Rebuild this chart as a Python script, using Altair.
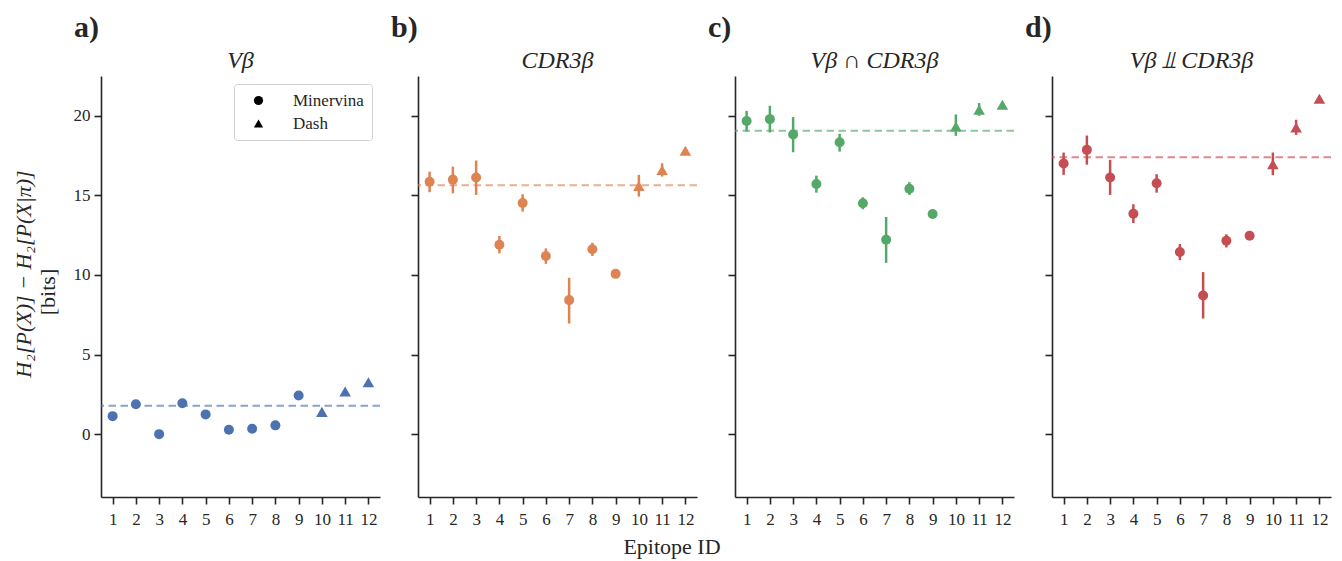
import altair as alt
import pandas as pd

FONT = "Liberation Serif"
MATH_FONT = "Liberation Serif, DejaVu Serif, DejaVu Sans"
INK = "#262626"

# Shared categories
EPITOPES = list(range(1, 13))
COHORTS = ["Minervina"] * 9 + ["Dash"] * 3
COHORT_ORDER = ["Minervina", "Dash"]
COHORT_SHAPES = ["circle", "triangle-up"]

PANEL_TITLES = ["Vβ", "CDR3β", "Vβ ∩ CDR3β", "Vβ ⫫ CDR3β"]
PANEL_LETTERS = ["a)", "b)", "c)", "d)"]
PANEL_COLORS = ["#4C72B0", "#DD8452", "#55A868", "#C44E52"]

X_LABEL = "Epitope ID"
Y_LABEL_MATH = "H₂[P(X)] − H₂[P(X|π)]"
Y_LABEL_UNIT = "[bits]"
Y_TICKS = [0, 5, 10, 15, 20]

# Vβ
VB = [1.13, 1.88, 0.00, 1.94, 1.24, 0.28, 0.34, 0.55, 2.43, 1.40, 2.68, 3.26]
VB_LO = [1.10, 1.85, -0.03, 1.91, 1.21, 0.25, 0.31, 0.52, 2.40, 1.37, 2.65, 3.23]
VB_HI = [1.16, 1.91, 0.03, 1.97, 1.27, 0.31, 0.37, 0.58, 2.46, 1.43, 2.71, 3.29]

# CDR3β
CDR3 = [15.86, 15.99, 16.12, 11.90, 14.52, 11.19, 8.42, 11.61, 10.07, 15.59, 16.60, 17.80]
CDR3_LO = [15.20, 15.13, 15.03, 11.36, 13.98, 10.70, 6.95, 11.19, 10.02, 14.92, 16.18, 17.75]
CDR3_HI = [16.49, 16.81, 17.19, 12.45, 15.07, 11.67, 9.82, 12.02, 10.12, 16.29, 17.02, 17.85]

# Vβ ∩ CDR3β
INTER = [19.67, 19.79, 18.82, 15.72, 18.34, 14.50, 12.21, 15.42, 13.83, 19.33, 20.38, 20.69]
INTER_LO = [19.01, 18.95, 17.71, 15.17, 17.75, 14.13, 10.76, 15.03, 13.80, 18.74, 20.00, 20.65]
INTER_HI = [20.31, 20.63, 19.92, 16.24, 18.87, 14.88, 13.64, 15.83, 13.86, 20.08, 20.80, 20.73]

# Vβ ⫫ CDR3β
INDEP = [17.00, 17.86, 16.12, 13.85, 15.76, 11.44, 8.71, 12.15, 12.46, 16.96, 19.26, 21.07]
INDEP_LO = [16.29, 16.93, 15.03, 13.26, 15.17, 10.93, 7.26, 11.73, 12.43, 16.27, 18.80, 21.03]
INDEP_HI = [17.69, 18.76, 17.23, 14.44, 16.33, 11.94, 10.18, 12.55, 12.49, 17.69, 19.75, 21.11]

# Reference level per panel (dashed line)
MEANS = [1.78, 15.64, 19.06, 17.40]

SERIES = [
    (VB, VB_LO, VB_HI),
    (CDR3, CDR3_LO, CDR3_HI),
    (INTER, INTER_LO, INTER_HI),
    (INDEP, INDEP_LO, INDEP_HI),
]

W, H = 279, 421
Y_DOMAIN = [-3.95, 22.5]


def label_layer(text, x, y, size, weight="normal", style="normal", angle=0,
                align="center", font=FONT):
    return alt.Chart(pd.DataFrame({"t": [text]})).mark_text(
        font=font, fontSize=size, fontWeight=weight, fontStyle=style, color=INK,
        angle=angle, align=align, baseline="middle",
    ).encode(text="t:N", x=alt.value(x), y=alt.value(y))


def panel(i):
    values, lo, hi = SERIES[i]
    color = PANEL_COLORS[i]
    df = pd.DataFrame({
        "epitope": EPITOPES, "cohort": COHORTS,
        "value": values, "lo": lo, "hi": hi,
    })

    x_enc = alt.X(
        "epitope:Q",
        scale=alt.Scale(domain=[0.5, 12.5], nice=False, zero=False),
        axis=alt.Axis(values=EPITOPES, format="d", title=None, labelPadding=7,
                      labelFlush=False, labelOverlap=False),
    )
    y_scale = alt.Scale(domain=Y_DOMAIN, nice=False, zero=False)
    y_axis = alt.Axis(values=Y_TICKS, title=None, labels=(i == 0), labelPadding=4)
    y_val = alt.Y("value:Q", scale=y_scale, axis=y_axis)

    mean_line = alt.Chart(pd.DataFrame({"mean": [MEANS[i]]})).mark_rule(
        color=color, strokeDash=[7.5, 4.5], strokeWidth=2, opacity=0.65
    ).encode(y=alt.Y("mean:Q", scale=y_scale, axis=y_axis))

    base = alt.Chart(df)
    errbars = base.mark_rule(color=color, strokeWidth=2.5).encode(
        x=x_enc,
        y=alt.Y("lo:Q", scale=y_scale, axis=y_axis),
        y2="hi:Q",
    )

    circles = base.transform_filter(alt.datum.cohort == COHORT_ORDER[0]).mark_point(
        filled=True, opacity=1, color=color, size=100, shape=COHORT_SHAPES[0]
    ).encode(x=x_enc, y=y_val)
    triangles = base.transform_filter(alt.datum.cohort == COHORT_ORDER[1]).mark_point(
        filled=True, opacity=1, color=color, size=135, shape=COHORT_SHAPES[1]
    ).encode(x=x_enc, y=y_val)

    layers = [mean_line, errbars, circles, triangles]

    if i == 0:
        # cohort key: black symbols, driven by the shape scale alone
        key = base.transform_filter("false").mark_point(
            filled=True, opacity=1, color="black"
        ).encode(
            x=x_enc, y=y_val,
            shape=alt.Shape(
                "cohort:N", sort=COHORT_ORDER,
                scale=alt.Scale(domain=COHORT_ORDER, range=COHORT_SHAPES),
                legend=alt.Legend(
                    title=None, orient="top-right", offset=8,
                    labelFont=FONT, labelFontSize=17, labelColor=INK,
                    symbolSize=85, symbolOffset=8, labelOffset=26,
                    padding=8, rowPadding=5,
                    strokeColor="#d0d0d0", fillColor="white", cornerRadius=3,
                ),
            ),
        )
        layers.append(key)

    layers += [
        label_layer(PANEL_TITLES[i], W / 2, -15, 24, style="italic", font=MATH_FONT),
        label_layer(PANEL_LETTERS[i], -27, -48, 30, weight="bold", align="left"),
    ]
    if i == 0:
        layers.append(label_layer(Y_LABEL_MATH, -77, 198, 22, style="italic", angle=270))
        layers.append(label_layer(Y_LABEL_UNIT, -53, 216, 22, angle=270))
    if i == 1:
        layers.append(label_layer(X_LABEL, 254, 471, 22))

    return alt.layer(*layers).properties(width=W, height=H)


chart = alt.hconcat(
    *[panel(i) for i in range(4)], spacing=38, bounds="flush"
).resolve_scale(
    shape="independent"
).resolve_legend(
    shape="independent"
).properties(
    padding={"left": 13, "top": 13, "right": 8, "bottom": 4}
).configure_view(
    strokeWidth=0
).configure_axis(
    grid=False, domainColor=INK, tickColor=INK, labelColor=INK,
    labelFont=FONT, labelFontSize=17, domainWidth=1.6, tickWidth=1.6, tickSize=7,
)

chart.save("out.html", embed_options={"renderer": "svg", "actions": False})
